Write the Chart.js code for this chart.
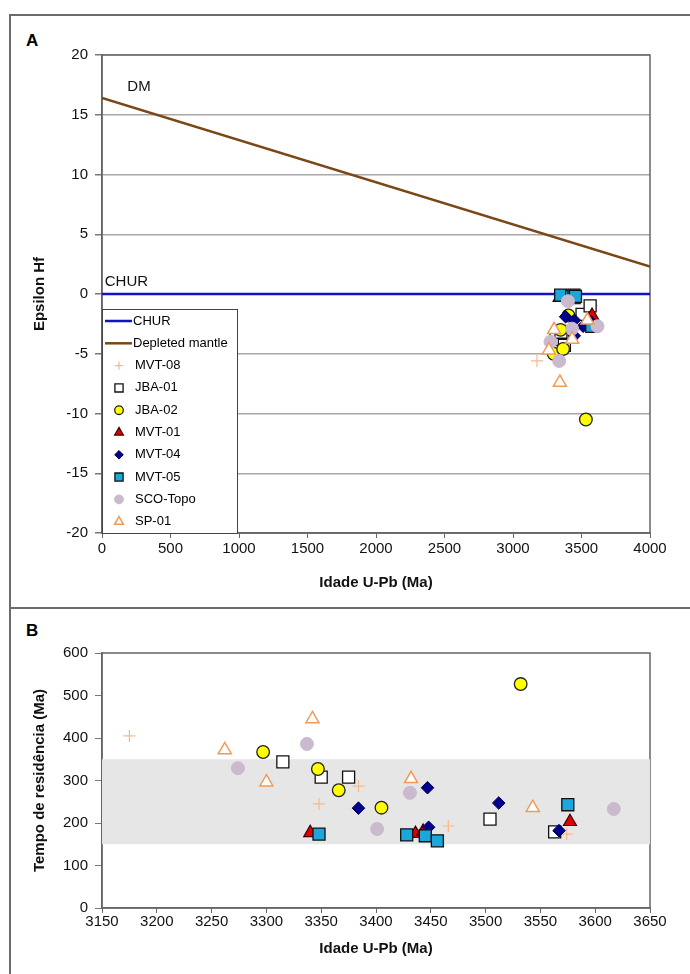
<!DOCTYPE html>
<html>
<head>
<meta charset="utf-8">
<script src="https://cdn.jsdelivr.net/npm/chart.js@4.4.1/dist/chart.umd.min.js"></script>
<style>
  body { margin: 0; background: #fff; width: 690px; height: 974px; overflow: hidden; position: relative;
         font-family: "Liberation Sans", Arial, sans-serif; }
  #frame { position: absolute; left: 9px; top: 14px; width: 720px; height: 1000px;
           border-left: 2px solid #6b6b6b; border-top: 2px solid #6b6b6b; }
  #divider { position: absolute; left: 9px; top: 607px; width: 720px; border-top: 2px solid #6b6b6b; }
  .tag { position: absolute; font-weight: bold; font-size: 17px; }
  canvas { position: absolute; left: 0; }
  #cA { top: 0; }
  #cB { top: 600px; }
</style>
</head>
<body>
<div id="frame"></div>
<div id="divider"></div>
<div class="tag" style="left:26px;top:31px">A</div>
<div class="tag" style="left:26px;top:621px">B</div>
<canvas id="cA" width="690" height="600"></canvas>
<canvas id="cB" width="690" height="374"></canvas>
<script>
// reference lines (panel A)
const lineAges = [0, 4000];
const churEps = [0, 0];
const dmEps = [16.4, 2.3];

// samples: U-Pb age (Ma), epsilon Hf (panel A), residence time (panel B)
const seriesNames = ["MVT-08", "JBA-01", "JBA-02", "MVT-01", "MVT-04", "MVT-05", "SCO-Topo", "SP-01"];

const ageMVT08 = [3175, 3348, 3384, 3466, 3574];
const epsMVT08 = [-5.6, -3.5, -3.0, -2.2, -1.0];
const resMVT08 = [405, 245, 287, 193, 174];

const ageJBA01 = [3315, 3350, 3375, 3504, 3563];
const epsJBA01 = [-3.8, -3.2, -4.3, -1.7, -1.0];
const resJBA01 = [344, 308, 308, 209, 179];

const ageJBA02 = [3297, 3347, 3366, 3405, 3532];
const epsJBA02 = [-5.0, -3.0, -4.6, -1.8, -10.5];
const resJBA02 = [367, 327, 277, 236, 527];

const ageMVT01 = [3340, 3436, 3443, 3577];
const epsMVT01 = [-0.3, -0.4, -0.5, -1.8];
const resMVT01 = [177, 175, 180, 203];

const ageMVT04 = [3384, 3447, 3448, 3512, 3567];
const epsMVT04 = [-1.9, -3.5, -2.2, -2.7, -2.3];
const resMVT04 = [235, 283, 190, 247, 182];

const ageMVT05 = [3348, 3428, 3445, 3456, 3575];
const epsMVT05 = [-0.1, -0.2, -0.1, -0.2, -2.7];
const resMVT05 = [174, 172, 170, 158, 243];

const ageSCO = [3274, 3337, 3401, 3431, 3617];
const epsSCO = [-4.0, -5.6, -0.6, -2.9, -2.7];
const resSCO = [329, 386, 186, 271, 233];

const ageSP01 = [3262, 3300, 3342, 3432, 3543];
const epsSP01 = [-4.7, -3.0, -7.4, -3.8, -2.2];
const resSP01 = [372, 296, 445, 304, 236];

const sampleAges = [ageMVT08, ageJBA01, ageJBA02, ageMVT01, ageMVT04, ageMVT05, ageSCO, ageSP01];
const sampleEps = [epsMVT08, epsJBA01, epsJBA02, epsMVT01, epsMVT04, epsMVT05, epsSCO, epsSP01];
const sampleRes = [resMVT08, resJBA01, resJBA02, resMVT01, resMVT04, resMVT05, resSCO, resSP01];

// grey band in panel B
const bandAges = [3150, 3650];
const bandTop = [350, 350];
const bandBottom = 150;

const markerStyles = [
  { pointStyle: "cross",    radius: 6,   bg: "#f6b98c", border: "#f6b98c", bw: 1.2 },
  { pointStyle: "rect",     radius: 8.5, bg: "#ffffff", border: "#111111", bw: 1.3 },
  { pointStyle: "circle",   radius: 6.3, bg: "#ffff00", border: "#222222", bw: 1.3 },
  { pointStyle: "triangle", radius: 7.5, bg: "#e00000", border: "#3a0000", bw: 1.2 },
  { pointStyle: "rectRot",  radius: 6.3, bg: "#00008f", border: "#00004a", bw: 1 },
  { pointStyle: "rect",     radius: 8.5, bg: "#1ca7dc", border: "#111111", bw: 1.3 },
  { pointStyle: "circle",   radius: 6.5, bg: "#c9bacd", border: "#c9bacd", bw: 1 },
  { pointStyle: "triangle", radius: 7.5, bg: "#ffffff", border: "#f09a5a", bw: 1.5 }
];

const FONT = "'Liberation Sans', Arial, sans-serif";

function pts(xs, ys) {
  return xs.map((x, i) => ({ x: x, y: ys[i] }));
}

function sampleSets(values, legendScale) {
  return seriesNames.map((name, i) => {
    const s = markerStyles[i];
    return {
      label: name,
      data: pts(sampleAges[i], values[i]),
      pointStyle: s.pointStyle,
      pointRadius: s.radius,
      pointBackgroundColor: s.bg,
      pointBorderColor: s.border,
      pointBorderWidth: s.bw,
      backgroundColor: s.bg,
      borderColor: s.border,
      showLine: false,
      order: 20 - i,
      legendRadius: s.radius * legendScale
    };
  });
}

const plotBorder = {
  id: "plotBorder",
  beforeDatasetsDraw(chart) {
    const a = chart.chartArea;
    const ctx = chart.ctx;
    ctx.save();
    ctx.strokeStyle = "#666";
    ctx.lineWidth = 1.5;
    ctx.strokeRect(a.left, a.top, a.right - a.left, a.bottom - a.top);
    ctx.restore();
  }
};

const lineLabels = {
  id: "lineLabels",
  afterDatasetsDraw(chart) {
    const ctx = chart.ctx;
    const xs = chart.scales.x, ys = chart.scales.y;
    ctx.save();
    ctx.fillStyle = "#111";
    ctx.font = "15px " + FONT;
    ctx.textBaseline = "middle";
    ctx.fillText("DM", xs.getPixelForValue(185), ys.getPixelForValue(17.3));
    ctx.fillText("CHUR", xs.getPixelForValue(20), ys.getPixelForValue(1.0));
    ctx.restore();
  }
};

const boxLegend = {
  id: "boxLegend",
  afterDraw(chart) {
    const ctx = chart.ctx;
    const a = chart.chartArea;
    const left = a.left, top = 309, right = 237, bottom = a.bottom;
    ctx.save();
    ctx.fillStyle = "#fff";
    ctx.fillRect(left, top, right - left, bottom - top);
    ctx.strokeStyle = "#444";
    ctx.lineWidth = 1;
    ctx.strokeRect(left + 0.5, top + 0.5, right - left, bottom - top);
    ctx.font = "13px " + FONT;
    ctx.textBaseline = "middle";
    chart.data.datasets.forEach((ds, i) => {
      const y = top + 12 + i * 22.3;
      if (ds.showLine) {
        ctx.strokeStyle = ds.borderColor;
        ctx.lineWidth = ds.borderWidth;
        ctx.beginPath();
        ctx.moveTo(left + 3, y);
        ctx.lineTo(left + 30, y);
        ctx.stroke();
        ctx.fillStyle = "#000";
        ctx.fillText(ds.label, left + 31, y);
      } else {
        ctx.fillStyle = ds.pointBackgroundColor;
        ctx.strokeStyle = ds.pointBorderColor;
        ctx.lineWidth = ds.pointBorderWidth;
        Chart.helpers.drawPoint(ctx, {
          pointStyle: ds.pointStyle, radius: ds.legendRadius, rotation: 0, borderWidth: ds.pointBorderWidth
        }, left + 17, y);
        ctx.fillStyle = "#000";
        ctx.fillText(ds.label, left + 33, y);
      }
    });
    ctx.restore();
  }
};

function fixWidth(w) { return s => { s.width = w; }; }
function fixHeight(h) { return s => { s.height = h; }; }
const plainNum = v => String(v);

const tickFont = { family: FONT, size: 15 };
const titleFont = { family: FONT, size: 15, weight: "bold" };

// ---- panel A ----
new Chart(document.getElementById("cA"), {
  type: "scatter",
  data: {
    datasets: [
      { label: "CHUR", data: pts(lineAges, churEps), showLine: true, borderColor: "#1212c4",
        borderWidth: 2.5, pointRadius: 0, order: 50 },
      { label: "Depleted mantle", data: pts(lineAges, dmEps), showLine: true, borderColor: "#7a4716",
        borderWidth: 2.5, pointRadius: 0, order: 49 }
    ].concat(sampleSets(sampleEps, 0.68))
  },
  options: {
    responsive: false,
    animation: false,
    layout: { padding: { left: 0, right: 40, top: 55, bottom: 0 } },
    plugins: { legend: { display: false }, tooltip: { enabled: false } },
    scales: {
      x: {
        type: "linear", min: 0, max: 4000,
        ticks: { stepSize: 500, font: tickFont, color: "#111", padding: 2, maxRotation: 0, callback: plainNum },
        grid: { drawOnChartArea: false, tickLength: 5, tickColor: "#666" },
        border: { color: "#666", width: 1.5 },
        title: { display: true, text: "Idade U-Pb (Ma)", font: titleFont, color: "#111", padding: { top: 0, bottom: 8 } },
        afterFit: fixHeight(67)
      },
      y: {
        min: -20, max: 20,
        ticks: { stepSize: 5, font: tickFont, color: "#111", padding: 7, callback: plainNum },
        grid: { color: "#a8a8a8", lineWidth: 1.5, tickLength: 7, tickColor: "#777" },
        border: { color: "#666", width: 1.5 },
        title: { display: true, text: "Epsilon Hf", font: titleFont, color: "#111", padding: { top: 31, bottom: 0 } },
        afterFit: fixWidth(102)
      }
    }
  },
  plugins: [plotBorder, lineLabels, boxLegend]
});

// ---- panel B ----
new Chart(document.getElementById("cB"), {
  type: "scatter",
  data: {
    datasets: sampleSets(sampleRes, 0.7).concat([
      { label: "band", data: pts(bandAges, bandTop), showLine: true, borderWidth: 0, pointRadius: 0,
        backgroundColor: "#e6e6e6", fill: { value: bandBottom }, order: 100 }
    ])
  },
  options: {
    responsive: false,
    animation: false,
    layout: { padding: { left: 0, right: 40, top: 53, bottom: 0 } },
    plugins: { legend: { display: false }, tooltip: { enabled: false } },
    scales: {
      x: {
        type: "linear", min: 3150, max: 3650,
        ticks: { stepSize: 50, font: tickFont, color: "#111", padding: 0, maxRotation: 0, autoSkip: false, callback: plainNum },
        grid: { drawOnChartArea: false, tickLength: 5, tickColor: "#666" },
        border: { color: "#666", width: 1.5 },
        title: { display: true, text: "Idade U-Pb (Ma)", font: titleFont, color: "#111", padding: { top: 0, bottom: 16 } },
        afterFit: fixHeight(66)
      },
      y: {
        min: 0, max: 600,
        ticks: { stepSize: 100, font: tickFont, color: "#111", padding: 7, callback: plainNum },
        grid: { drawOnChartArea: false, tickLength: 7, tickColor: "#777" },
        border: { color: "#666", width: 1.5 },
        title: { display: true, text: "Tempo de residência (Ma)", font: titleFont, color: "#111", padding: { top: 31, bottom: 0 } },
        afterFit: fixWidth(102)
      }
    }
  },
  plugins: [plotBorder]
});
</script>
</body>
</html>
